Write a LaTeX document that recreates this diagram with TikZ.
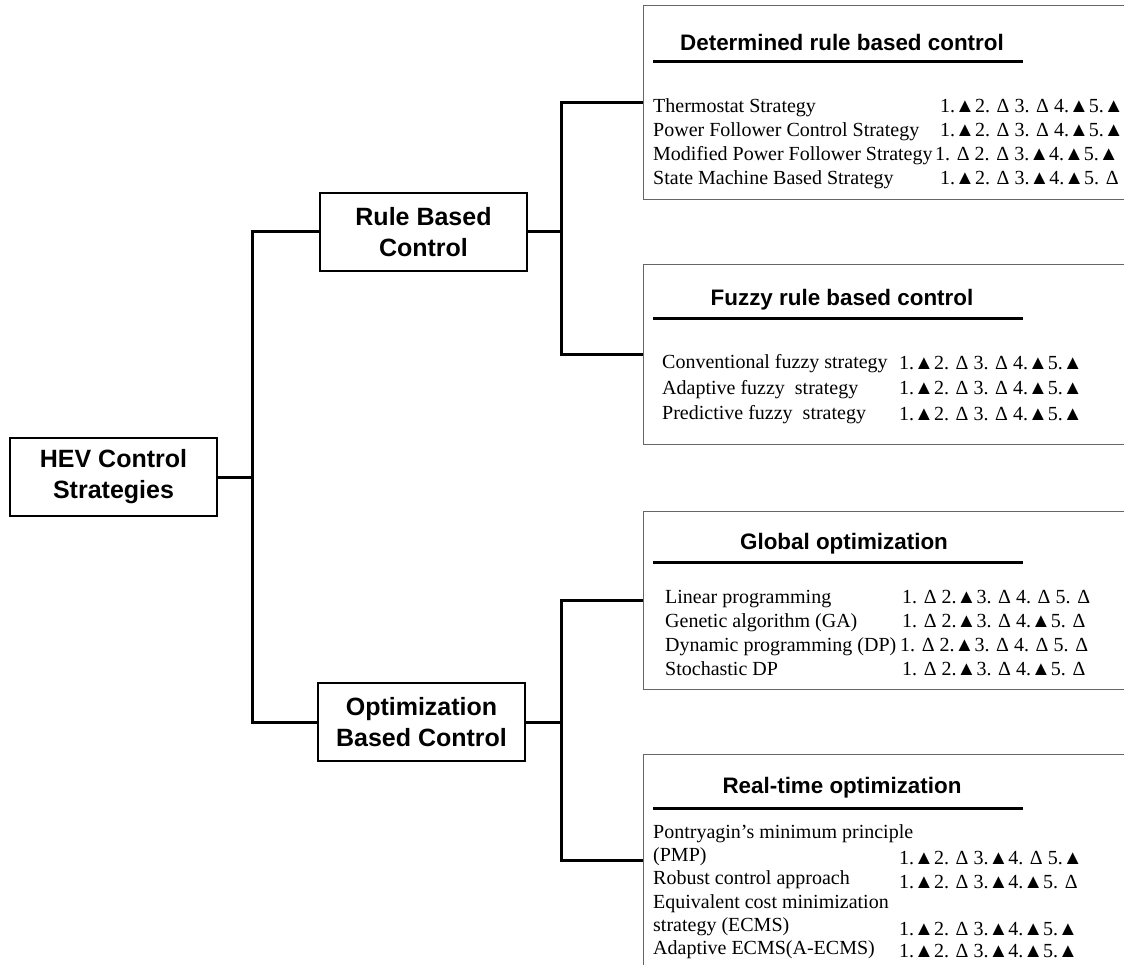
\documentclass[tikz,border=0pt]{standalone}
\usepackage{fontspec}
\setmainfont{Liberation Serif}
\setsansfont{Liberation Sans}
\newcommand\tu{▲}
\begin{document}
\begin{tikzpicture}[x=1pt,y=-1pt,
 conn/.style={line width=3pt},
 midbox/.style={draw, line width=1.8pt, minimum width=207pt, minimum height=78pt, inner sep=0pt, align=center, font=\sffamily\bfseries\fontsize{25}{31}\selectfont},
 bigbox/.style={draw=black!60, line width=1.3pt, anchor=north west, minimum width=500pt, inner sep=0pt},
 ttl/.style={anchor=base, font=\sffamily\bfseries\fontsize{22.4}{26}\selectfont, inner sep=0pt},
 item/.style={anchor=base west, font=\fontsize{20}{24}\selectfont, inner sep=0pt},
 uline/.style={line width=3pt}
]
\fill[white] (0,0) rectangle (1124,965);
\useasboundingbox (0,0) rectangle (1124,965);

% main boxes
\node[midbox] (hev) at (113.5,477) {HEV Control\\Strategies};
\node[midbox] (rbc) at (423.5,232) {Rule Based\\Control};
\node[midbox] (obc) at (421.5,722) {Optimization\\Based Control};

% right boxes
\node[bigbox, minimum height=194pt] (det) at (643,5) {};
\node[bigbox, minimum height=180pt] (fuz) at (643,264) {};
\node[bigbox, minimum height=178pt] (glo) at (643,511) {};
\node[bigbox, minimum height=212pt] (rto) at (643,754) {};

% connectors
\draw[conn] (hev.east) -- ++(35,0) |- (rbc.west);
\draw[conn] (hev.east) -- ++(35,0) |- (obc.west);
\draw[conn] (rbc.east) -- ++(34,0) |- (det.west);
\draw[conn] (rbc.east) -- ++(34,0) |- (fuz.west);
\draw[conn] (obc.east) -- ++(36,0) |- (glo.west);
\draw[conn] (obc.east) -- ++(36,0) |- (rto.west);

% Determined rule based control
\node[ttl] (detT) at (842,51) {Determined rule based control};
\draw[uline] (653,62) -- (1023,62);
\node[item] (d1) at (653,113) {Thermostat Strategy};
\node[item] (d1r) at (940,113) {1.\tu2. Δ 3. Δ 4.\tu5.\tu};
\node[item] (d2) at (653,137) {Power Follower Control Strategy};
\node[item] (d2r) at (940,137) {1.\tu2. Δ 3. Δ 4.\tu5.\tu};
\node[item] (d3) at (653,161) {Modified Power Follower Strategy};
\node[item] (d3r) at (935,161) {1. Δ 2. Δ 3.\tu4.\tu5.\tu};
\node[item] (d4) at (653,185) {State Machine Based Strategy};
\node[item] (d4r) at (940,185) {1.\tu2. Δ 3.\tu4.\tu5. Δ};

% Fuzzy rule based control
\node[ttl] (fuzT) at (842,306) {Fuzzy rule based control};
\draw[uline] (653,319) -- (1023,319);
\node[item] (f1) at (662,369) {Conventional fuzzy strategy};
\node[item] (f1r) at (899,370) {1.\tu2. Δ 3. Δ 4.\tu5.\tu};
\node[item] (f2) at (662,394) {Adaptive fuzzy\ \ strategy};
\node[item] (f2r) at (899,395) {1.\tu2. Δ 3. Δ 4.\tu5.\tu};
\node[item] (f3) at (662,419) {Predictive fuzzy\ \ strategy};
\node[item] (f3r) at (899,420) {1.\tu2. Δ 3. Δ 4.\tu5.\tu};

% Global optimization
\node[ttl] (gloT) at (844,549) {Global optimization};
\draw[uline] (653,562) -- (1023,562);
\node[item] (g1) at (665,603) {Linear programming};
\node[item] (g1r) at (902,603) {1. Δ 2.\tu3. Δ 4. Δ 5. Δ};
\node[item] (g2) at (665,627) {Genetic algorithm (GA)};
\node[item] (g2r) at (902,627) {1. Δ 2.\tu3. Δ 4.\tu5. Δ};
\node[item] (g3) at (665,651) {Dynamic programming (DP)};
\node[item] (g3r) at (900,651) {1. Δ 2.\tu3. Δ 4. Δ 5. Δ};
\node[item] (g4) at (665,675) {Stochastic DP};
\node[item] (g4r) at (902,675) {1. Δ 2.\tu3. Δ 4.\tu5. Δ};

% Real-time optimization
\node[ttl] (rtoT) at (842,793) {Real-time optimization};
\draw[uline] (653,808) -- (1023,808);
\node[item] (r1) at (653,838) {Pontryagin’s minimum principle};
\node[item] (r2) at (653,861) {(PMP)};
\node[item] (r2r) at (899,864) {1.\tu2. Δ 3.\tu4. Δ 5.\tu};
\node[item] (r3) at (653,884) {Robust control approach};
\node[item] (r3r) at (899,888) {1.\tu2. Δ 3.\tu4.\tu5. Δ};
\node[item] (r4) at (653,908) {Equivalent cost minimization};
\node[item] (r5) at (653,931) {strategy (ECMS)};
\node[item] (r5r) at (899,935) {1.\tu2. Δ 3.\tu4.\tu5.\tu};
\node[item] (r6) at (653,954) {Adaptive ECMS(A-ECMS)};
\node[item] (r6r) at (899,957) {1.\tu2. Δ 3.\tu4.\tu5.\tu};
\end{tikzpicture}
\end{document}
